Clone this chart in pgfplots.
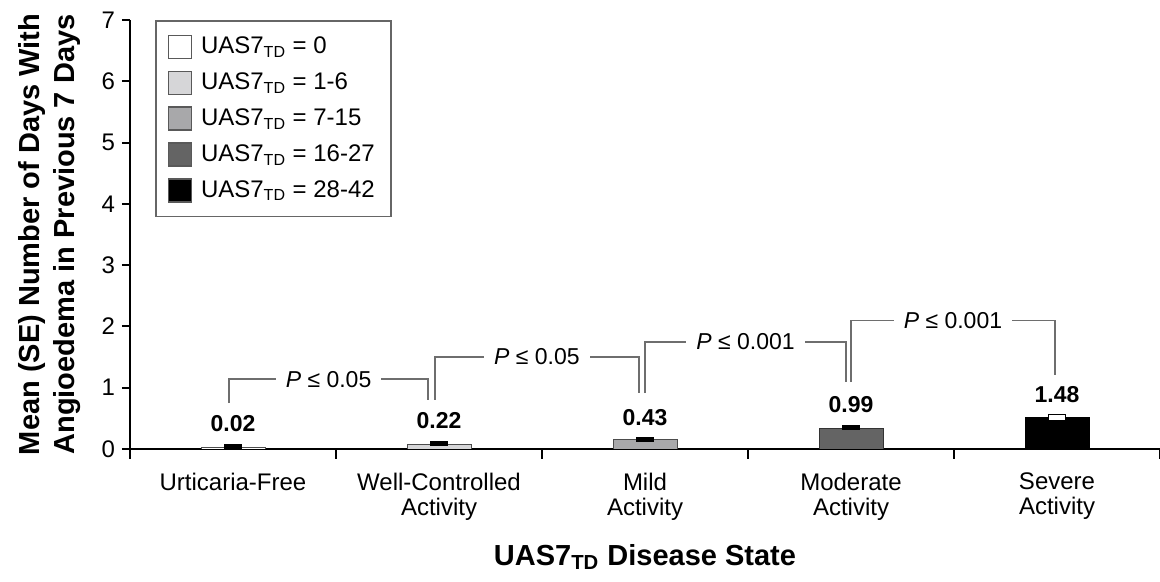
\documentclass[border=0pt]{standalone}
\usepackage{pgfplots}
\pgfplotsset{compat=1.18}
\usepackage{fontspec}
\setmainfont{Liberation Sans}
\definecolor{c0}{HTML}{FFFFFF}
\definecolor{c1}{HTML}{D6D6D8}
\definecolor{c2}{HTML}{A8A8AA}
\definecolor{c3}{HTML}{646464}
\definecolor{c4}{HTML}{000000}
\definecolor{brk}{HTML}{6E6E6E}
\pgfdeclareplotmark{capw}{%
  \pgfpathrectangle{\pgfpoint{-1.3pt}{-\pgfplotmarksize}}{\pgfpoint{2.6pt}{2\pgfplotmarksize}}%
  \pgfusepathqfillstroke}
\pgfplotsset{
  mylegend/.style={legend image code/.code={\draw[##1, draw=gray!70!black, line width=0.6pt] (0pt,-5.75pt) rectangle (11.5pt,5.75pt);}},
  mycap/.style={error bars/.cd, y dir=plus, y explicit, error mark=|, error bar style={black, line width=0.6pt},
     error mark options={black, line width=2.5pt, mark size=4.3pt}},
}
\begin{document}
\begin{tikzpicture}
\begin{axis}[
  scale only axis, width=515pt, height=214.5pt,
  xmin=-0.5, xmax=4.5, ymin=0, ymax=7,
  axis lines=left, axis line style={line width=1pt, -},
  ybar, bar width=0.31,
  xtick={0,...,4},
  xticklabels={Urticaria-Free,{Well-Controlled\\Activity},{Mild\\Activity},{Moderate\\Activity},{Severe\\Activity}},
  minor xtick={-0.5,0.5,...,4.5},
  major x tick style={draw=none},
  ytick={0,...,7},
  tick align=outside,
  major tick length=4pt, minor tick length=5pt,
  tick style={line width=1pt, black},
  /pgf/number format/assume math mode=true,
  ticklabel style={font=\fontsize{12}{12.5}\selectfont},
  xticklabel style={align=center, yshift=-4.5pt},
  ylabel={Mean (SE) Number of Days With\\Angioedema in Previous 7 Days},
  ylabel style={align=center, font=\bfseries\fontsize{14.5}{17.5}\selectfont, at={(axis description cs:-0.0785,0.5)}, anchor=center},
  xlabel={UAS7\textsubscript{TD} Disease State},
  xlabel style={font=\bfseries\fontsize{14.5}{17}\selectfont, at={(axis description cs:0.5,-0.2517)}, anchor=center},
  legend style={at={(axis description cs:0.0243,1)}, anchor=north west, draw=gray!80!black, line width=0.8pt,
     font=\fontsize{12}{13}\selectfont, row sep=4.1pt, inner xsep=6pt, inner ysep=6pt, cells={anchor=west},
     /tikz/every odd column/.append style={column sep=2.5pt}},
  legend cell align=left,
]
\addplot[bar shift=0pt, fill=c0, draw=gray!60!black, mylegend, mycap] coordinates {(0,0.03) +- (0,0.015)};
\addlegendentry{UAS7\textsubscript{TD} = 0}
\addplot[bar shift=0pt, fill=c1, draw=gray!60!black, mylegend, mycap] coordinates {(1,0.08) +- (0,0.01)};
\addlegendentry{UAS7\textsubscript{TD} = 1-6}
\addplot[bar shift=0pt, fill=c2, draw=gray!60!black, mylegend, mycap] coordinates {(2,0.15) +- (0,0.01)};
\addlegendentry{UAS7\textsubscript{TD} = 7-15}
\addplot[bar shift=0pt, fill=c3, draw=black!80, mylegend, mycap] coordinates {(3,0.34) +- (0,0.005)};
\addlegendentry{UAS7\textsubscript{TD} = 16-27}
\addplot[bar shift=0pt, fill=c4, draw=black, mylegend, error bars/.cd, y dir=plus, y explicit, error mark=capw, error bar style={black, line width=0.6pt},
     error mark options={draw=black, fill=white, line width=0.5pt, mark size=4.3pt}] coordinates {(4,0.51) +- (0,0.005)};
\addlegendentry{UAS7\textsubscript{TD} = 28-42}

\draw[brk, line width=0.7pt] (axis cs:-0.02,0.75) |- (axis cs:0.947,1.14) -- (axis cs:0.947,0.80);
\draw[brk, line width=0.7pt] (axis cs:0.98,0.80) |- (axis cs:1.97,1.50) -- (axis cs:1.97,0.91);
\draw[brk, line width=0.7pt] (axis cs:2.0,0.91) |- (axis cs:2.976,1.745) -- (axis cs:2.976,1.09);
\draw[brk, line width=0.7pt] (axis cs:3.0,1.09) |- (axis cs:3.99,2.10) -- (axis cs:3.99,1.21);
\begin{scope}[every node/.style={fill=white, inner xsep=5pt, inner ysep=1pt, font=\fontsize{11.5}{13}\selectfont}]
\node at (axis cs:0.464,1.14) {\textit{P} ≤ 0.05};
\node at (axis cs:1.475,1.50) {\textit{P} ≤ 0.05};
\node at (axis cs:2.488,1.745) {\textit{P} ≤ 0.001};
\node at (axis cs:3.495,2.10) {\textit{P} ≤ 0.001};
\end{scope}
\begin{scope}[every node/.style={font=\bfseries\fontsize{11.5}{13}\selectfont}]
\node at (axis cs:0,0.42) {0.02};
\node at (axis cs:1,0.46) {0.22};
\node at (axis cs:2,0.505) {0.43};
\node at (axis cs:3,0.73) {0.99};
\node at (axis cs:4,0.88) {1.48};
\end{scope}
\coordinate (bl) at (rel axis cs:0,0);
\coordinate (tr) at (rel axis cs:1,1);
\end{axis}
\pgfresetboundingbox
\path (bl) ++(-65pt,-66.5pt) rectangle ([yshift=10pt]tr);
\end{tikzpicture}
\end{document}
